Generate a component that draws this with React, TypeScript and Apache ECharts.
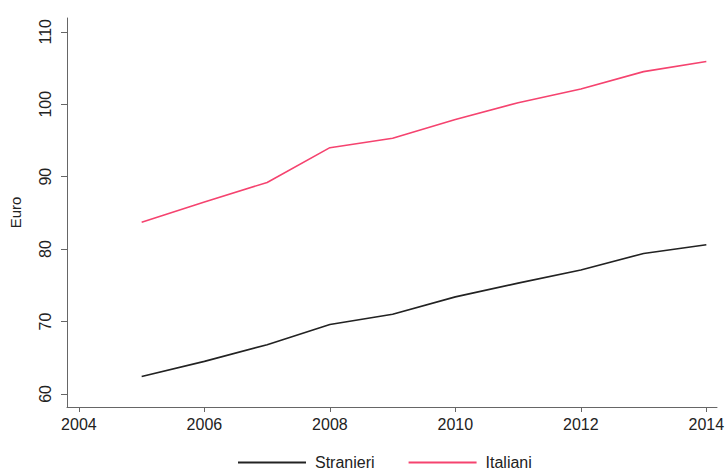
import React, { useEffect, useRef } from "react";
import * as echarts from "echarts";

const years = [2005, 2006, 2007, 2008, 2009, 2010, 2011, 2012, 2013, 2014];
const stranieri = [62.4, 64.5, 66.8, 69.6, 71.0, 73.4, 75.3, 77.1, 79.4, 80.6];
const italiani = [83.7, 86.5, 89.2, 94.0, 95.3, 97.9, 100.2, 102.1, 104.5, 105.9];
const xTicks = [2004, 2006, 2008, 2010, 2012, 2014];
const yTicks = [60, 70, 80, 90, 100, 110];

export default function App() {
  const ref = useRef<HTMLDivElement>(null);
  useEffect(() => {
    const chart = echarts.init(ref.current!, null, { renderer: "svg" });
    const font = "Liberation Sans, Arial, Helvetica, sans-serif";
    chart.setOption({
      animation: false,
      backgroundColor: "#ffffff",
      grid: { left: 65, right: 11, top: 18, bottom: 66 },
      legend: {
        left: 233,
        top: 454,
        padding: [0, 5],
        itemGap: 34,
        itemWidth: 68,
        itemHeight: 2,
        icon: "rect",
        textStyle: { fontFamily: font, fontSize: 16, lineHeight: 17, color: "#222", padding: [0, 0, 0, 4] },
        data: ["Stranieri", "Italiani"],
      },
      xAxis: {
        type: "value",
        min: 2003.81,
        max: 2014.17,
        splitLine: { show: false },
        axisLine: { lineStyle: { color: "#666", width: 1 } },
        axisTick: { show: true, customValues: xTicks, length: 5, lineStyle: { color: "#666" } },
        axisLabel: {
          customValues: xTicks,
          margin: 9,
          fontFamily: font,
          fontSize: 16,
          color: "#222",
          formatter: (v: number) => String(Math.round(v)),
        },
      },
      yAxis: {
        type: "value",
        min: 58.2,
        max: 111.9,
        name: "Euro",
        nameLocation: "middle",
        nameGap: 44,
        nameRotate: 90,
        nameTextStyle: { fontFamily: font, fontSize: 15, color: "#222" },
        splitLine: { show: false },
        axisLine: { show: true, lineStyle: { color: "#666", width: 1 } },
        axisTick: { show: true, customValues: yTicks, length: 6, lineStyle: { color: "#666" } },
        axisLabel: {
          customValues: yTicks,
          rotate: 90,
          margin: 14,
          fontFamily: font,
          fontSize: 16,
          color: "#222",
        },
      },
      series: [
        {
          name: "Stranieri",
          type: "line",
          data: years.map((y, i) => [y, stranieri[i]]),
          showSymbol: false,
          lineStyle: { color: "#222", width: 1.6 },
          itemStyle: { color: "#222" },
        },
        {
          name: "Italiani",
          type: "line",
          data: years.map((y, i) => [y, italiani[i]]),
          showSymbol: false,
          lineStyle: { color: "#f5436f", width: 1.6 },
          itemStyle: { color: "#f5436f" },
        },
      ],
    });
    return () => chart.dispose();
  }, []);
  return <div ref={ref} style={{ width: 728, height: 473, position: "fixed", left: 0, top: 0 }} />;
}
